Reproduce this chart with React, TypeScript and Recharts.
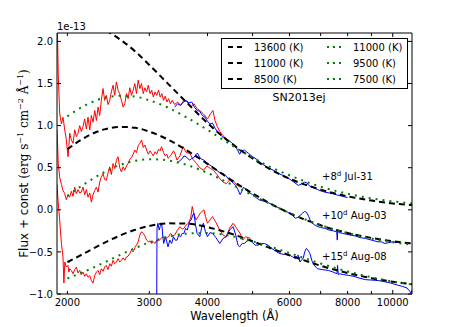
import React from "react";
import { LineChart, Line, XAxis, YAxis } from "recharts";

const FONT = "'DejaVu Sans', sans-serif";
const SERIF = "'DejaVu Serif', serif";

// axes
const xTicks = [2000, 3000, 4000, 5000, 6000, 7000, 8000, 9000, 10000];
const xLabeled = [2000, 3000, 4000, 6000, 8000, 10000];
const yTicks = [-1.0, -0.5, 0.0, 0.5, 1.0, 1.5, 2.0];

// blackbody fits (flux + const, 1e-13)
const modelWave = [2000, 2200, 2400, 2600, 2800, 3000, 3300, 3600, 4000, 4500, 5000, 5500, 6000, 7000, 8000, 9000, 10000, 11000];
const bb13600 = [2.19, 2.21, 2.14, 2.02, 1.88, 1.72, 1.49, 1.28, 1.03, 0.79, 0.61, 0.47, 0.37, 0.24, 0.16, 0.11, 0.076, 0.056];
const bb11000a = [1.11, 1.25, 1.33, 1.354, 1.344, 1.3, 1.21, 1.1, 0.95, 0.77, 0.62, 0.5, 0.41, 0.274, 0.19, 0.136, 0.1, 0.076];
const bb11000b = [0.719, 0.87, 0.955, 0.985, 0.974, 0.929, 0.831, 0.711, 0.545, 0.354, 0.194, 0.064, -0.039, -0.184, -0.276, -0.334, -0.373, -0.399];
const bb9500 = [0.165, 0.323, 0.447, 0.533, 0.582, 0.601, 0.586, 0.535, 0.438, 0.302, 0.173, 0.059, -0.037, -0.181, -0.277, -0.342, -0.385, -0.415];
const bb8500 = [-0.622, -0.502, -0.393, -0.304, -0.237, -0.192, -0.161, -0.164, -0.206, -0.285, -0.374, -0.462, -0.539, -0.664, -0.751, -0.812, -0.854, -0.884];
const bb7500 = [-0.815, -0.722, -0.626, -0.534, -0.454, -0.388, -0.319, -0.283, -0.276, -0.312, -0.374, -0.444, -0.514, -0.638, -0.732, -0.801, -0.852, -0.888];

// UV spectra (red) [wavelength, flux]
const uv1 = [
  [1900, 2.4], [1912, 1.6], [1925, 1.15], [1942, 1.02], [1957, 1.1], [1973, 0.96], [1990, 0.83], [2006, 0.63], [2015, 0.75], [2023, 0.91],
  [2040, 0.83], [2057, 0.79], [2074, 0.95], [2091, 0.87], [2108, 0.91], [2126, 1.0], [2143, 0.93], [2161, 0.99], [2179, 1.08], [2197, 0.96],
  [2215, 1.1], [2234, 0.95], [2252, 1.12], [2271, 1.04], [2290, 1.18], [2309, 1.06], [2328, 1.22], [2347, 1.12], [2366, 1.3], [2386, 1.44],
  [2405, 1.3], [2425, 1.36], [2446, 1.25], [2466, 1.3], [2486, 1.4], [2507, 1.48], [2528, 1.36], [2549, 1.52], [2570, 1.42], [2591, 1.38],
  [2613, 1.3], [2635, 1.22], [2657, 1.26], [2679, 1.38], [2701, 1.32], [2724, 1.45], [2746, 1.36], [2769, 1.42], [2792, 1.5], [2815, 1.38],
  [2839, 1.54], [2863, 1.44], [2887, 1.5], [2911, 1.38], [2935, 1.45], [2960, 1.4], [2985, 1.48], [3010, 1.38], [3035, 1.42], [3060, 1.34],
  [3086, 1.4], [3112, 1.36], [3140, 1.42], [3165, 1.34], [3192, 1.38], [3218, 1.3], [3245, 1.35], [3273, 1.28], [3300, 1.32], [3330, 1.26],
  [3360, 1.3], [3400, 1.25], [3450, 1.28], [3500, 1.24], [3560, 1.3], [3620, 1.28], [3680, 1.22], [3740, 1.26], [3800, 1.2], [3850, 1.18],
  [3920, 1.14], [4000, 1.08], [4060, 1.14], [4110, 1.18], [4150, 1.06], [4200, 0.99], [4250, 0.93], [4320, 0.88], [4400, 0.84],
];
const uv2 = [
  [1900, 0.95], [1912, 0.55], [1925, 0.39], [1942, 0.3], [1957, 0.23], [1973, 0.195], [1990, 0.12], [2006, 0.175], [2023, 0.15], [2040, 0.22],
  [2057, 0.16], [2074, 0.27], [2091, 0.19], [2108, 0.24], [2126, 0.2], [2143, 0.21], [2161, 0.27], [2179, 0.18], [2197, 0.24], [2215, 0.15],
  [2234, 0.2], [2252, 0.09], [2271, 0.18], [2290, 0.23], [2309, 0.27], [2328, 0.21], [2347, 0.33], [2366, 0.39], [2386, 0.43], [2405, 0.36],
  [2425, 0.35], [2446, 0.44], [2466, 0.51], [2486, 0.42], [2507, 0.55], [2528, 0.49], [2549, 0.59], [2570, 0.63], [2591, 0.5], [2613, 0.45],
  [2635, 0.51], [2657, 0.47], [2679, 0.52], [2701, 0.55], [2724, 0.6], [2746, 0.62], [2769, 0.66], [2792, 0.71], [2815, 0.68], [2839, 0.76],
  [2863, 0.79], [2887, 0.83], [2911, 0.74], [2935, 0.77], [2960, 0.71], [2985, 0.66], [3010, 0.7], [3035, 0.67], [3060, 0.64], [3086, 0.69],
  [3112, 0.66], [3140, 0.72], [3165, 0.7], [3186, 0.75], [3218, 0.68], [3245, 0.64], [3273, 0.66], [3291, 0.61], [3319, 0.63], [3350, 0.66],
  [3380, 0.7], [3403, 0.67], [3440, 0.59], [3490, 0.64], [3546, 0.75], [3600, 0.68], [3665, 0.67], [3720, 0.6], [3790, 0.55], [3850, 0.5],
  [3920, 0.47], [3990, 0.52], [4060, 0.49], [4120, 0.47], [4190, 0.42], [4252, 0.37], [4320, 0.33], [4390, 0.31], [4470, 0.36], [4540, 0.35],
  [4620, 0.3], [4694, 0.27],
];
const uv3 = [
  [1900, 0.3], [1910, 0.11], [1925, -0.12], [1942, -0.4], [1957, -0.56], [1966, -0.87], [1975, -0.62], [1990, -0.68], [2006, -0.66], [2015, -0.74],
  [2023, -0.7], [2040, -0.72], [2057, -0.76], [2074, -0.71], [2091, -0.68], [2108, -0.75], [2126, -0.72], [2143, -0.77], [2161, -0.74], [2180, -0.79],
  [2197, -0.76], [2215, -0.8], [2234, -0.78], [2252, -0.84], [2271, -0.87], [2290, -0.78], [2309, -0.74], [2328, -0.72], [2347, -0.77], [2366, -0.7],
  [2386, -0.73], [2405, -0.68], [2425, -0.66], [2446, -0.71], [2466, -0.64], [2486, -0.67], [2507, -0.6], [2528, -0.64], [2549, -0.62], [2570, -0.58],
  [2591, -0.62], [2613, -0.6], [2635, -0.57], [2657, -0.6], [2679, -0.56], [2701, -0.55], [2724, -0.52], [2746, -0.48], [2769, -0.5], [2792, -0.45],
  [2815, -0.42], [2839, -0.38], [2863, -0.3], [2887, -0.26], [2911, -0.28], [2935, -0.31], [2960, -0.36], [2985, -0.38], [3010, -0.37], [3035, -0.4],
  [3060, -0.38], [3086, -0.4], [3112, -0.36], [3140, -0.37], [3165, -0.35], [3192, -0.33], [3218, -0.32], [3245, -0.35], [3273, -0.33], [3300, -0.32],
  [3330, -0.28], [3370, -0.31], [3400, -0.3], [3450, -0.24], [3490, -0.2], [3530, -0.23], [3560, -0.22], [3600, -0.18], [3640, -0.16], [3680, -0.1],
  [3710, 0.04], [3740, -0.05], [3780, -0.12], [3820, -0.08], [3860, -0.04], [3930, 0.0], [3960, -0.08], [3999, -0.16], [4050, -0.12], [4100, -0.08],
  [4170, -0.15], [4250, -0.24], [4320, -0.3], [4390, -0.32], [4460, -0.22], [4540, -0.16], [4620, -0.22], [4700, -0.28], [4760, -0.36], [4830, -0.32],
  [4900, -0.33], [4950, -0.34],
];

// optical spectra (blue) [wavelength, flux]
const opt1 = [
  [3400, 1.22], [3450, 1.26], [3500, 1.24], [3550, 1.28], [3600, 1.3], [3650, 1.27], [3700, 1.28], [3750, 1.22], [3800, 1.18], [3850, 1.17],
  [3900, 1.12], [3950, 1.1], [4000, 1.05], [4050, 1.02], [4100, 1.03], [4150, 0.97], [4200, 0.93], [4250, 0.9], [4300, 0.87], [4400, 0.84],
  [4500, 0.8], [4600, 0.75], [4650, 0.7], [4690, 0.66], [4730, 0.7], [4800, 0.71], [4900, 0.67], [5000, 0.63], [5100, 0.6], [5200, 0.56],
  [5320, 0.52], [5450, 0.49], [5580, 0.46], [5700, 0.43], [5900, 0.39], [6100, 0.34], [6200, 0.31], [6270, 0.29], [6380, 0.31], [6470, 0.33],
  [6540, 0.32], [6600, 0.29], [6700, 0.27], [6800, 0.255], [6900, 0.24], [7000, 0.225], [7150, 0.21], [7300, 0.2], [7450, 0.19], [7600, 0.175],
  [7700, 0.168], [7800, 0.16], [7900, 0.152], [8000, 0.145],
];
const opt2 = [
  [3440, 0.55], [3480, 0.58], [3520, 0.6], [3560, 0.64], [3600, 0.63], [3640, 0.6], [3665, 0.59], [3700, 0.61], [3740, 0.62], [3780, 0.66],
  [3810, 0.67], [3850, 0.62], [3890, 0.6], [3930, 0.59], [3970, 0.57], [4000, 0.55], [4050, 0.53], [4100, 0.51], [4150, 0.49], [4200, 0.46],
  [4260, 0.44], [4330, 0.43], [4400, 0.39], [4470, 0.35], [4540, 0.32], [4600, 0.29], [4650, 0.24], [4700, 0.18], [4740, 0.22], [4780, 0.27],
  [4840, 0.24], [4900, 0.21], [5000, 0.18], [5100, 0.14], [5180, 0.115], [5300, 0.1], [5450, 0.075], [5580, 0.045], [5720, 0.017], [5870, -0.01],
  [6010, -0.043], [6100, -0.07], [6180, -0.1], [6250, -0.09], [6320, -0.07], [6400, -0.04], [6470, -0.02], [6530, -0.03], [6600, -0.08], [6640, -0.12],
  [6720, -0.16], [6800, -0.18], [6900, -0.2], [7000, -0.21], [7150, -0.22], [7300, -0.24], [7450, -0.25], [7580, -0.26], [7600, -0.36], [7620, -0.24],
  [7660, -0.27], [7800, -0.28], [7950, -0.29], [8100, -0.3], [8300, -0.31], [8500, -0.33], [8740, -0.34], [9000, -0.36], [9150, -0.37], [9300, -0.38],
  [9450, -0.38], [9620, -0.4], [9800, -0.39], [10000, -0.38], [10200, -0.39],
];
const opt3 = [
  [3110, -1.3], [3116, -0.22], [3130, -0.16], [3150, -0.24], [3165, -0.2], [3190, -0.16], [3205, -0.3], [3220, -0.4], [3250, -0.32], [3270, -0.38],
  [3290, -0.44], [3320, -0.36], [3350, -0.4], [3380, -0.32], [3410, -0.36], [3440, -0.36], [3470, -0.3], [3500, -0.32], [3530, -0.28], [3560, -0.28],
  [3590, -0.22], [3620, -0.24], [3660, -0.14], [3690, -0.12], [3720, -0.06], [3740, -0.04], [3770, -0.18], [3800, -0.28], [3850, -0.32], [3890, -0.2],
  [3920, -0.16], [3960, -0.26], [4000, -0.32], [4050, -0.27], [4100, -0.28], [4170, -0.33], [4250, -0.4], [4320, -0.34], [4390, -0.32], [4460, -0.24],
  [4540, -0.2], [4600, -0.3], [4650, -0.42], [4690, -0.44], [4750, -0.4], [4800, -0.4], [4870, -0.37], [4930, -0.36], [5000, -0.39], [5060, -0.42],
  [5140, -0.42], [5220, -0.4], [5300, -0.4], [5400, -0.42], [5500, -0.46], [5600, -0.49], [5720, -0.52], [5850, -0.53], [6010, -0.54], [6100, -0.56],
  [6180, -0.58], [6230, -0.55], [6270, -0.54], [6320, -0.62], [6380, -0.59], [6420, -0.58], [6470, -0.5], [6520, -0.46], [6580, -0.48], [6640, -0.52],
  [6700, -0.6], [6750, -0.64], [6830, -0.68], [6900, -0.7], [7050, -0.71], [7270, -0.72], [7450, -0.74], [7590, -0.76], [7610, -0.66], [7640, -0.77],
  [7700, -0.76], [7850, -0.77], [8050, -0.78], [8250, -0.79], [8460, -0.81], [8750, -0.83], [9030, -0.835], [9300, -0.84], [9620, -0.855], [9900, -0.87],
  [10230, -0.894], [10500, -0.91], [10740, -0.93], [10850, -0.96], [10950, -0.99], [11000, -0.95],
];

const legendBlack = ["13600 (K)", "11000 (K)", "8500 (K)"];
const legendGreen = ["11000 (K)", "9500 (K)", "7500 (K)"];

const toPoints = (p: number[][]) => p.map(([x, y]) => ({ x, y }));
const model = (ys: number[]) => modelWave.map((x, i) => ({ x, y: ys[i] }));

const BLACK = "#000000";
const GREEN = "#008000";
const RED = "#ff0000";
const BLUE = "#0000ff";

const fmtY = (v: number) => (v < 0 ? "\u2212" : "") + Math.abs(v).toFixed(1);

const BottomTick = (props: any) => {
  const { x, y, payload } = props;
  const v = payload.value;
  const lab = xLabeled.includes(v);
  return (
    <g>
      <line x1={x} x2={x} y1={y} y2={y - (v === 10000 ? 4 : 3)} stroke={BLACK} />
      {lab && (
        <text x={x} y={y + 11.5} textAnchor="middle" fontSize={10} fontFamily={FONT} fill={BLACK}>
          {v}
        </text>
      )}
    </g>
  );
};

const TopTick = (props: any) => {
  const { x, y, payload } = props;
  return <line x1={x} x2={x} y1={y} y2={y + (payload.value === 10000 ? 4 : 3)} stroke={BLACK} />;
};

const LeftTick = (props: any) => {
  const { x, y, payload } = props;
  return (
    <g>
      <line x1={x} x2={x + 4} y1={y} y2={y} stroke={BLACK} />
      <text x={x - 4} y={y + 3.6} textAnchor="end" fontSize={10} fontFamily={FONT} fill={BLACK}>
        {fmtY(payload.value)}
      </text>
    </g>
  );
};

const RightTick = (props: any) => {
  const { x, y } = props;
  return <line x1={x} x2={x - 4} y1={y} y2={y} stroke={BLACK} />;
};

const sup = (s: string, size = 7) => [
  <tspan key="a" dy={-4} fontSize={size}>{s}</tspan>,
  <tspan key="b" dy={4}> </tspan>,
];

export default function App() {
  const common = { dataKey: "y", dot: false, activeDot: false, isAnimationActive: false } as const;
  return (
    <div style={{ position: "absolute", left: 0, top: 0, width: 458, height: 327, background: "#fff" }}>
      <LineChart width={458} height={327} margin={{ top: 32, right: 45, bottom: 32, left: 56 }}>
        <XAxis
          type="number"
          dataKey="x"
          scale="log"
          domain={[1900, 11000]}
          allowDataOverflow
          ticks={xTicks}
          interval={0}
          height={1}
          tickSize={0}
          tickMargin={0}
          tickLine={false}
          tick={<BottomTick />}
          axisLine={{ stroke: BLACK }}
        />
        <XAxis
          xAxisId="top"
          orientation="top"
          type="number"
          dataKey="x"
          scale="log"
          domain={[1900, 11000]}
          allowDataOverflow
          ticks={xTicks}
          interval={0}
          height={1}
          tickSize={0}
          tickMargin={0}
          tickLine={false}
          tick={<TopTick />}
          axisLine={{ stroke: BLACK }}
        />
        <YAxis
          type="number"
          domain={[-1, 2.1]}
          allowDataOverflow
          ticks={yTicks}
          interval={0}
          width={1}
          tickSize={0}
          tickMargin={0}
          tickLine={false}
          tick={<LeftTick />}
          axisLine={{ stroke: BLACK }}
        />
        <YAxis
          yAxisId="right"
          orientation="right"
          type="number"
          domain={[-1, 2.1]}
          allowDataOverflow
          ticks={yTicks}
          interval={0}
          width={1}
          tickSize={0}
          tickMargin={0}
          tickLine={false}
          tick={<RightTick />}
          axisLine={{ stroke: BLACK }}
        />

        <Line {...common} data={toPoints(uv1)} type="linear" stroke={RED} strokeWidth={1} />
        <Line {...common} data={toPoints(uv2)} type="linear" stroke={RED} strokeWidth={1} />
        <Line {...common} data={toPoints(uv3)} type="linear" stroke={RED} strokeWidth={1} />
        <Line {...common} data={toPoints(opt1)} type="linear" stroke={BLUE} strokeWidth={1} />
        <Line {...common} data={toPoints(opt2)} type="linear" stroke={BLUE} strokeWidth={1} />
        <Line {...common} data={toPoints(opt3)} type="linear" stroke={BLUE} strokeWidth={1} />

        <Line {...common} data={model(bb13600)} type="monotone" stroke={BLACK} strokeWidth={2} strokeDasharray="6 4" />
        <Line {...common} data={model(bb11000b)} type="monotone" stroke={BLACK} strokeWidth={2} strokeDasharray="6 4" />
        <Line {...common} data={model(bb8500)} type="monotone" stroke={BLACK} strokeWidth={2} strokeDasharray="6 4" />
        <Line {...common} data={model(bb11000a)} type="monotone" stroke={GREEN} strokeWidth={2} strokeDasharray="2 5" />
        <Line {...common} data={model(bb9500)} type="monotone" stroke={GREEN} strokeWidth={2} strokeDasharray="2 5" />
        <Line {...common} data={model(bb7500)} type="monotone" stroke={GREEN} strokeWidth={2} strokeDasharray="2 5" />
      </LineChart>

      <svg width={458} height={327} style={{ position: "absolute", left: 0, top: 0, pointerEvents: "none" }}>
        <text x={57} y={30} fontSize={10} fontFamily={FONT} fill={BLACK}>1e-13</text>

        <g transform="translate(221,38)">
          <rect x={0.5} y={0.5} width={186} height={50} fill="#fff" stroke={BLACK} />
          {legendBlack.map((t, i) => (
            <g key={"b" + i}>
              <line x1={7} x2={21} y1={9 + i * 16} y2={9 + i * 16} stroke={BLACK} strokeWidth={2} strokeDasharray="5 4" />
              <text x={33} y={12.6 + i * 16} fontSize={10} fontFamily={FONT} fill={BLACK}>{t}</text>
            </g>
          ))}
          {legendGreen.map((t, i) => (
            <g key={"g" + i}>
              <line x1={106} x2={120} y1={9 + i * 16} y2={9 + i * 16} stroke={GREEN} strokeWidth={2} strokeDasharray="2 4" />
              <text x={132} y={12.6 + i * 16} fontSize={10} fontFamily={FONT} fill={BLACK}>{t}</text>
            </g>
          ))}
        </g>

        <text x={299} y={100.5} textAnchor="middle" fontSize={11} fontFamily={FONT} fill={BLACK}>SN2013ej</text>

        <text x={322} y={180} fontSize={10} fontFamily={FONT} fill={BLACK}>
          +8{sup("d")}<tspan> Jul-31</tspan>
        </text>
        <text x={322} y={218.5} fontSize={10} fontFamily={FONT} fill={BLACK}>
          +10{sup("d")}<tspan>Aug-03</tspan>
        </text>
        <text x={322} y={260} fontSize={10} fontFamily={FONT} fill={BLACK}>
          +15{sup("d")}<tspan>Aug-08</tspan>
        </text>

        <text x={234.5} y={320} textAnchor="middle" fontSize={11.5} fontFamily={FONT} fill={BLACK}>
          Wavelength (Å)
        </text>

        <text
          x={0}
          y={0}
          transform="translate(28,163.5) rotate(-90)"
          textAnchor="middle"
          fontSize={12}
          fontFamily={FONT}
          fill={BLACK}
        >
          Flux + const <tspan fontFamily={SERIF}>(erg s</tspan>
          <tspan dy={-5} fontSize={8} fontFamily={SERIF}>{"\u2212"}1</tspan>
          <tspan dy={5} fontFamily={SERIF}> cm</tspan>
          <tspan dy={-5} fontSize={8} fontFamily={SERIF}>{"\u2212"}2</tspan>
          <tspan dy={5} fontFamily={SERIF}>{"  "}Å</tspan>
          <tspan dy={-5} fontSize={8} fontFamily={SERIF}>{"\u2212"}1</tspan>
          <tspan dy={5} fontFamily={SERIF}>)</tspan>
        </text>
      </svg>
    </div>
  );
}
